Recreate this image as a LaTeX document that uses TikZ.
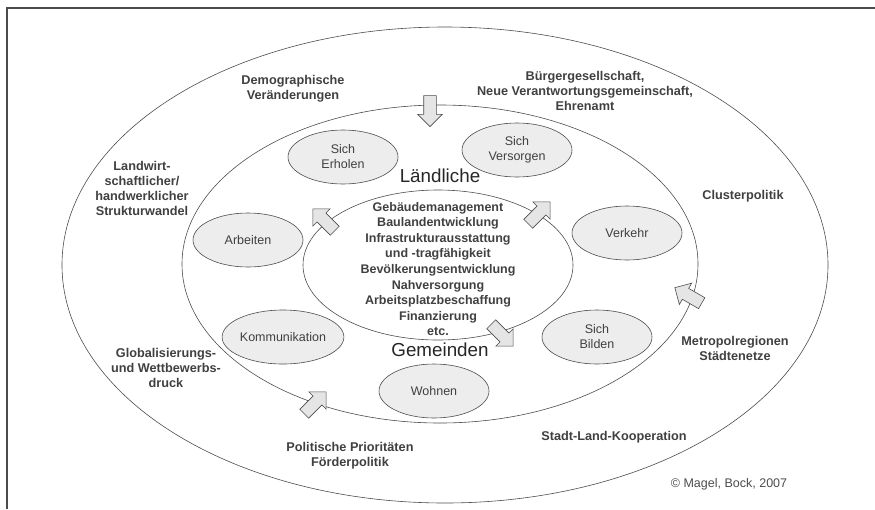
\documentclass[tikz,border=0pt]{standalone}
\usepackage{fontspec}
\setmainfont{Liberation Sans}
\usetikzlibrary{shapes.geometric,shapes.arrows}
\tikzset{
    ring/.style ={
        ellipse,
        draw=black!70,
        line width=0.6pt,
        inner sep=0pt
    },
    field/.style ={
        ellipse,
        draw=black!70,
        fill=black!7,
        line width=0.6pt,
        minimum width=110pt,
        minimum height=54pt,
        inner sep=0pt,
        align=center,
        text=black!75,
        font=\fontsize{12.5}{15}\selectfont
    },
    factor/.style ={
        align=center,
        text=black!75,
        font=\bfseries\fontsize{12.7}{15}\selectfont
    },
    push/.style ={
        single arrow,
        draw=black!70,
        fill=black!10,
        line width=0.6pt,
        minimum height=31pt,
        inner sep=6pt,
        single arrow head extend=6pt
    }
}
\begin{document}
\begin{tikzpicture}[x=1pt,y=-1pt]
        \useasboundingbox (0,0) rectangle (875,509);
        \draw[black!70, line width=1.5pt] (7,509) -- (7,8) -- (875,8);
        \node[ring, minimum width=766pt, minimum height=476pt] (OUTER) at(445,265) {};
        \node[ring, minimum width=516pt, minimum height=318pt] (MIDDLE) at(440,264) {};
        \node[ring, minimum width=270pt, minimum height=150pt] (INNER) at(438,265) {};
        \node[field] (ERHOLEN) at(343,157) {Sich\\Erholen};
        \node[field] (VERSORGEN) at(517,150) {Sich\\Versorgen};
        \node[field] (ARBEITEN) at(248,240) {Arbeiten};
        \node[field] (VERKEHR) at(627,233) {Verkehr};
        \node[field] (KOMM) at(283,337) {Kommunikation};
        \node[field] (BILDEN) at(597,337) {Sich\\Bilden};
        \node[field] (WOHNEN) at(434,391) {Wohnen};
        \node[font=\fontsize{18.8}{20}\selectfont, text=black!85] (LAND) at(440,176) {Ländliche};
        \node[font=\fontsize{18.8}{20}\selectfont, text=black!85] (GEM) at(440,350) {Gemeinden};
        \node[factor, font=\bfseries\fontsize{12.5}{15.6}\selectfont] (TASKS) at(438,269) {Gebäudemanagement\\Baulandentwicklung\\Infrastrukturausstattung\\und -tragfähigkeit\\Bevölkerungsentwicklung\\Nahversorgung\\Arbeitsplatzbeschaffung\\Finanzierung\\etc.};
        \node[factor] (DEMO) at(293,89) {Demographische\\Veränderungen};
        \node[factor] (BUERGER) at(585,91) {Bürgergesellschaft,\\Neue Verantwortungsgemeinschaft,\\Ehrenamt};
        \node[factor] (LANDWIRT) at(142,188) {Landwirt-\\schaftlicher/\\handwerklicher\\Strukturwandel};
        \node[factor] (CLUSTER) at(743,196) {Clusterpolitik};
        \node[factor] (GLOBAL) at(166,368) {Globalisierungs-\\und Wettbewerbs-\\druck};
        \node[factor] (METRO) at(735,348) {Metropolregionen\\Städtenetze};
        \node[factor] (POLITIK) at(350,456) {Politische Prioritäten\\Förderpolitik};
        \node[factor] (KOOP) at(614,437) {Stadt-Land-Kooperation};
        \node[text=black!70, font=\fontsize{12.5}{14}\selectfont] (COPY) at(729,484) {© Magel, Bock, 2007};
        \node[push, rotate=-90] (IN1) at(430,108) {};
        \node[push, rotate=135] (OUT1) at(326,222) {};
        \node[push, rotate=45] (OUT2) at(537,215) {};
        \node[push, rotate=-45] (OUT3) at(500,333) {};
        \node[push, rotate=45] (IN2) at(313,405) {};
        \node[push, rotate=150] (IN3) at(691,297) {};
    \end{tikzpicture}
\end{document}
